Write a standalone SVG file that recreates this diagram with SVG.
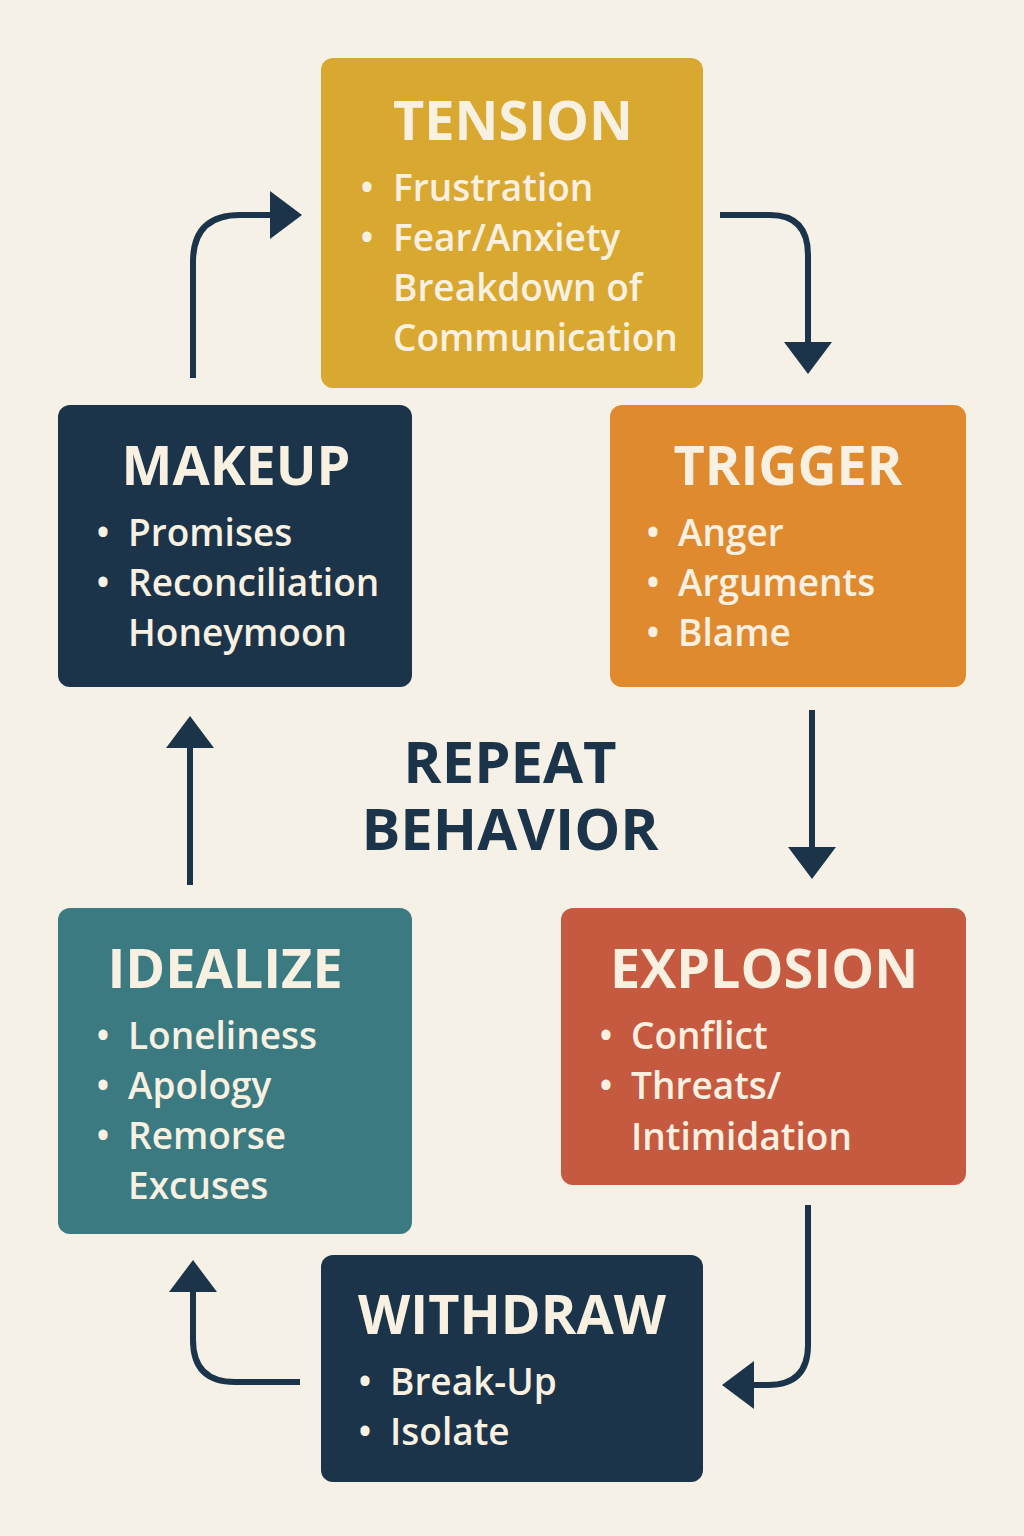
<svg xmlns="http://www.w3.org/2000/svg" width="1024" height="1536" viewBox="0 0 1024 1536">
<defs>
<style>
.t{font-family:"Open Sans","Liberation Sans",sans-serif;font-weight:700;font-size:54px;text-anchor:middle;fill:#f8f1e2}
.b{font-family:"Open Sans","Liberation Sans",sans-serif;font-weight:600;font-size:37px;fill:#f8f1e2}
.c{fill:none;stroke:#1b344a;stroke-width:6}
.h{fill:#1b344a}
.ctr{font-family:"Open Sans","Liberation Sans",sans-serif;font-weight:700;font-size:58px;text-anchor:middle;fill:#1b344a}
</style>
</defs>
<rect width="1024" height="1536" fill="#f5f1e6"/>
<g id="connectors">
<path class="c" d="M720,215 H770 Q808,215 808,255 V345"/>
<polygon class="h" points="784,342 832,342 808,374"/>
<path class="c" d="M812,710 V850"/>
<polygon class="h" points="788,847 836,847 812,879"/>
<path class="c" d="M808,1205 V1345 Q808,1385 768,1385 H752"/>
<polygon class="h" points="754,1361 754,1409 722,1385"/>
<path class="c" d="M300,1382 H235 Q193,1382 193,1340 V1290"/>
<polygon class="h" points="169,1292 217,1292 193,1260"/>
<path class="c" d="M190,885 V745"/>
<polygon class="h" points="166,748 214,748 190,716"/>
<path class="c" d="M193,378 V262 Q193,215 240,215 H272"/>
<polygon class="h" points="270,191 270,239 302,215"/>
</g>
<g id="tension">
<rect x="321" y="58" width="382" height="330" rx="12" fill="#d9a830"/>
<text class="t" x="513" y="140">TENSION</text>
<text class="b"><tspan x="360" y="201">•</tspan><tspan x="393" y="201">Frustration</tspan><tspan x="360" y="251">•</tspan><tspan x="393" y="251">Fear/Anxiety</tspan><tspan x="393" y="301">Breakdown of</tspan><tspan x="393" y="351">Communication</tspan></text>
</g>
<g id="trigger">
<rect x="610" y="405" width="356" height="282" rx="12" fill="#e08a30"/>
<text class="t" x="788" y="485">TRIGGER</text>
<text class="b"><tspan x="646" y="546">•</tspan><tspan x="678" y="546">Anger</tspan><tspan x="646" y="596">•</tspan><tspan x="678" y="596">Arguments</tspan><tspan x="646" y="646">•</tspan><tspan x="678" y="646">Blame</tspan></text>
</g>
<g id="explosion">
<rect x="561" y="908" width="405" height="277" rx="12" fill="#c65a40"/>
<text class="t" x="764" y="988">EXPLOSION</text>
<text class="b"><tspan x="599" y="1049">•</tspan><tspan x="631" y="1049">Conflict</tspan><tspan x="599" y="1099">•</tspan><tspan x="631" y="1099">Threats/</tspan><tspan x="631" y="1150">Intimidation</tspan></text>
</g>
<g id="withdraw">
<rect x="321" y="1255" width="382" height="227" rx="12" fill="#1b344a"/>
<text class="t" x="512" y="1334">WITHDRAW</text>
<text class="b"><tspan x="358" y="1395">•</tspan><tspan x="390" y="1395">Break-Up</tspan><tspan x="358" y="1445">•</tspan><tspan x="390" y="1445">Isolate</tspan></text>
</g>
<g id="idealize">
<rect x="58" y="908" width="354" height="326" rx="12" fill="#3a7a80"/>
<text class="t" x="225" y="988">IDEALIZE</text>
<text class="b"><tspan x="96" y="1049">•</tspan><tspan x="128" y="1049">Loneliness</tspan><tspan x="96" y="1099">•</tspan><tspan x="128" y="1099">Apology</tspan><tspan x="96" y="1149">•</tspan><tspan x="128" y="1149">Remorse</tspan><tspan x="128" y="1199">Excuses</tspan></text>
</g>
<g id="makeup">
<rect x="58" y="405" width="354" height="282" rx="12" fill="#1b344a"/>
<text class="t" x="236" y="485">MAKEUP</text>
<text class="b"><tspan x="96" y="546">•</tspan><tspan x="128" y="546">Promises</tspan><tspan x="96" y="596">•</tspan><tspan x="128" y="596">Reconciliation</tspan><tspan x="128" y="646">Honeymoon</tspan></text>
</g>
<g id="center">
<text class="ctr" x="510" y="783">REPEAT</text>
<text class="ctr" x="510" y="850">BEHAVIOR</text>
</g>
</svg>
